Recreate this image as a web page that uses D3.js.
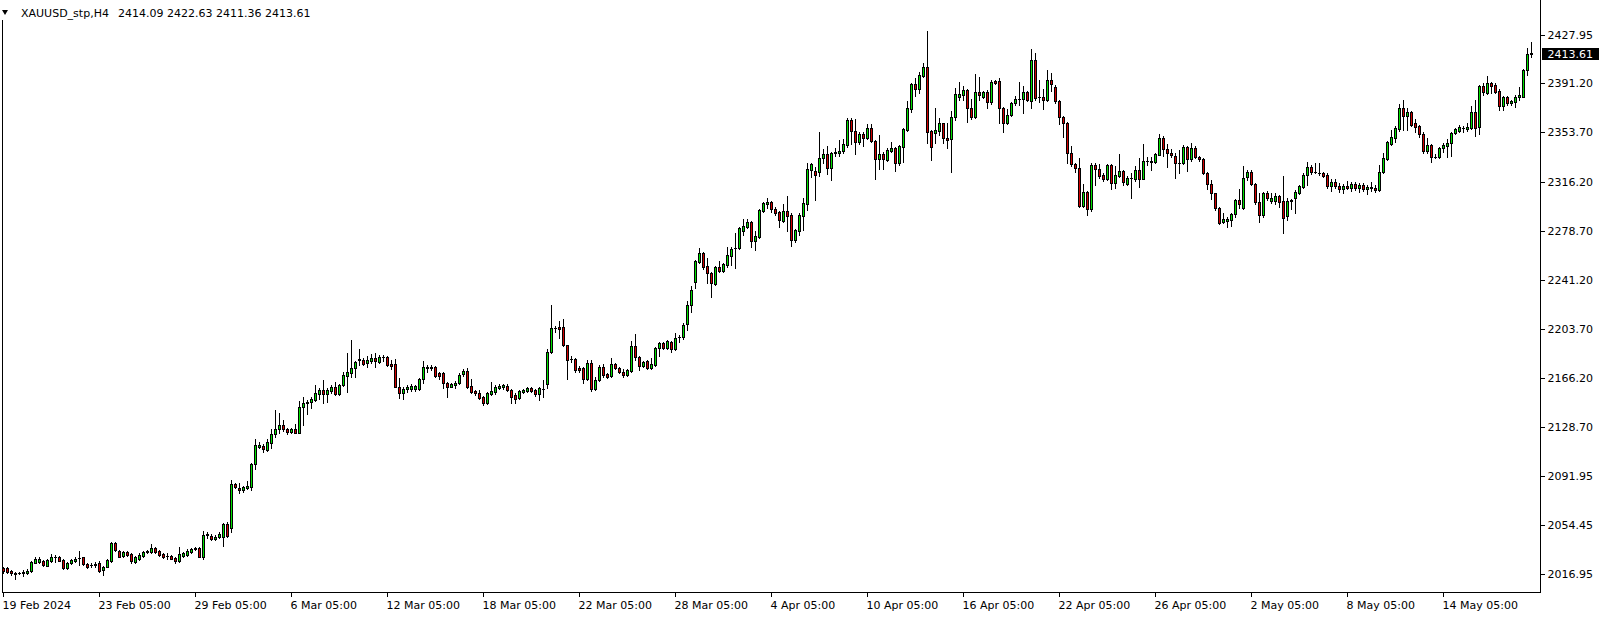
<!DOCTYPE html>
<html><head><meta charset="utf-8">
<script src="https://cdn.jsdelivr.net/npm/d3@7"></script>
<style>html,body{margin:0;padding:0;background:#fff;overflow:hidden}svg{display:block}</style>
</head><body>
<svg id="c" width="1604" height="617"></svg>
<script>
const symbol = "XAUUSD_stp,H4";
const xTickLabels = ["19 Feb 2024","23 Feb 05:00","29 Feb 05:00","6 Mar 05:00","12 Mar 05:00","18 Mar 05:00","22 Mar 05:00","28 Mar 05:00","4 Apr 05:00","10 Apr 05:00","16 Apr 05:00","22 Apr 05:00","26 Apr 05:00","2 May 05:00","8 May 05:00","14 May 05:00"];
const xTickIndex = [0,24,48,72,96,120,144,168,192,216,240,264,288,312,336,360];
const yTickLabels = ["2427.95","2391.20","2353.70","2316.20","2278.70","2241.20","2203.70","2166.20","2128.70","2091.95","2054.45","2016.95"];

const open = [
2021.8,2021.3,2019.2,2017.0,2017.9,2017.9,2017.5,2019.0,2025.6,2026.1,
2027.1,2023.3,2026.9,2029.6,2029.9,2027.6,2021.8,2025.1,2026.6,2029.0,
2029.7,2024.6,2023.5,2024.0,2025.6,2020.0,2022.5,2027.1,2040.8,2034.5,
2030.7,2033.5,2032.2,2026.4,2028.4,2030.7,2034.0,2033.5,2036.8,2034.5,
2032.2,2030.7,2030.7,2028.9,2026.9,2030.9,2031.2,2034.0,2036.3,2036.5,
2030.2,2047.0,2046.2,2043.4,2044.9,2045.4,2055.1,2051.8,2085.6,2082.8,
2081.0,2082.3,2083.5,2100.6,2114.0,2114.5,2111.5,2117.1,2123.5,2127.3,
2130.6,2127.5,2125.5,2127.5,2124.7,2144.0,2147.6,2148.4,2149.9,2154.2,
2157.3,2153.9,2156.8,2159.5,2154.5,2160.8,2168.2,2170.2,2173.8,2179.9,
2180.1,2177.6,2179.6,2181.6,2178.9,2182.2,2182.4,2177.1,2176.8,2159.8,
2154.7,2157.8,2158.3,2158.3,2158.3,2165.4,2174.3,2173.8,2174.8,2170.0,
2170.0,2162.3,2159.8,2160.8,2162.3,2169.2,2172.0,2160.3,2156.5,2154.7,
2152.2,2147.1,2154.5,2156.0,2159.0,2159.3,2160.0,2157.0,2153.4,2150.9,
2156.0,2156.5,2159.0,2157.5,2153.9,2157.8,2161.6,2186.0,2204.6,2205.0,
2205.0,2191.3,2180.6,2180.6,2173.8,2173.8,2165.9,2177.9,2158.3,2164.9,
2174.5,2169.4,2168.2,2176.8,2174.3,2171.0,2168.9,2172.0,2190.5,2182.4,
2175.6,2179.1,2174.3,2176.6,2189.0,2193.1,2189.3,2193.9,2188.8,2197.4,
2197.4,2207.3,2221.8,2239.4,2255.1,2262.0,2251.8,2246.2,2238.1,2251.3,
2248.3,2252.6,2259.7,2265.2,2265.3,2278.8,2281.8,2285.4,2271.1,2274.2,
2294.0,2298.8,2300.4,2295.3,2292.7,2286.4,2293.7,2290.7,2271.6,2278.7,
2290.2,2299.3,2325.3,2324.3,2323.7,2333.9,2337.2,2326.8,2337.7,2338.2,
2339.2,2344.3,2363.1,2354.8,2346.6,2352.5,2349.2,2356.8,2347.1,2333.1,
2336.9,2332.6,2339.8,2341.8,2330.1,2342.8,2355.5,2371.3,2390.6,2386.8,
2397.0,2403.3,2354.8,2353.5,2355.0,2360.6,2349.4,2348.4,2365.2,2380.9,
2382.5,2386.0,2372.0,2365.7,2384.5,2381.0,2384.5,2376.6,2392.9,2392.9,
2372.0,2360.6,2366.7,2375.8,2379.1,2378.9,2384.5,2377.4,2408.6,2380.4,
2380.7,2378.1,2393.6,2388.0,2377.6,2365.2,2360.6,2337.7,2329.3,2326.3,
2297.8,2308.0,2295.0,2328.8,2325.5,2320.9,2317.9,2328.8,2314.8,2320.7,
2324.2,2314.1,2318.8,2318.1,2325.0,2318.1,2331.5,2330.9,2331.4,2336.7,
2349.2,2340.8,2338.2,2335.9,2330.3,2330.1,2342.3,2333.1,2341.5,2334.9,
2333.1,2322.5,2314.1,2307.2,2295.8,2285.6,2286.4,2286.9,2291.2,2301.9,
2295.8,2319.9,2323.2,2314.1,2300.9,2290.7,2307.7,2301.6,2301.6,2305.4,
2301.6,2290.2,2301.1,2303.4,2307.7,2312.3,2321.2,2327.0,2323.6,2322.9,
2323.0,2321.2,2312.8,2315.5,2312.5,2310.5,2312.8,2311.5,2314.0,2311.0,
2313.5,2310.5,2312.0,2311.0,2310.0,2323.7,2333.4,2344.8,2349.7,2356.3,
2372.0,2366.4,2369.0,2360.6,2358.6,2352.5,2339.8,2343.8,2335.1,2335.2,
2341.5,2343.6,2345.3,2353.0,2355.0,2356.7,2356.0,2357.3,2369.0,2357.5,
2389.1,2384.0,2391.1,2389.8,2385.5,2373.8,2380.9,2375.8,2377.1,2380.4,
2380.9,2401.3,2414.09];

const high = [
2022.5,2022.0,2019.8,2018.5,2018.6,2020.0,2020.5,2026.8,2029.7,2030.2,
2027.9,2028.6,2032.2,2031.4,2030.7,2028.6,2026.4,2028.6,2030.2,2034.5,
2030.2,2025.6,2025.1,2026.4,2026.6,2023.3,2028.4,2041.4,2041.4,2035.3,
2034.7,2034.7,2032.7,2030.7,2032.7,2034.7,2035.3,2039.6,2037.8,2035.3,
2033.2,2032.7,2031.7,2029.7,2037.3,2034.0,2035.8,2037.0,2037.3,2037.3,
2050.0,2049.2,2047.2,2046.4,2049.2,2056.1,2056.9,2088.6,2086.6,2086.1,
2084.0,2087.9,2101.8,2119.6,2117.9,2115.8,2119.6,2127.3,2142.0,2139.5,
2134.4,2128.3,2128.3,2131.3,2148.9,2151.9,2149.6,2152.2,2161.1,2158.5,
2164.9,2158.5,2160.8,2163.4,2161.6,2170.7,2185.5,2195.1,2179.4,2188.5,
2181.4,2183.2,2184.7,2185.5,2183.9,2183.9,2183.2,2180.1,2181.1,2166.2,
2159.3,2160.8,2161.8,2161.1,2166.4,2179.4,2176.3,2176.3,2175.6,2171.0,
2170.7,2163.6,2162.3,2163.9,2170.0,2173.0,2173.8,2165.9,2157.3,2157.3,
2152.9,2155.5,2163.1,2161.1,2161.6,2161.6,2161.6,2157.8,2154.7,2157.3,
2158.3,2159.8,2159.8,2158.3,2159.8,2164.9,2188.3,2222.1,2206.3,2209.9,
2211.1,2191.8,2183.2,2181.4,2175.6,2174.5,2180.1,2180.1,2167.4,2176.3,
2177.1,2170.5,2181.4,2177.6,2174.5,2173.0,2173.0,2194.6,2199.7,2183.2,
2179.6,2180.1,2181.4,2190.3,2194.1,2194.1,2195.4,2194.6,2201.0,2199.2,
2208.1,2225.4,2236.8,2256.4,2265.3,2262.7,2257.7,2247.0,2251.5,2255.9,
2254.1,2266.6,2266.6,2277.2,2281.3,2287.4,2287.4,2286.1,2278.5,2295.5,
2300.4,2303.9,2301.6,2296.5,2293.5,2299.1,2305.2,2292.5,2279.8,2292.5,
2303.4,2330.1,2330.1,2327.6,2353.7,2340.8,2343.3,2339.0,2341.5,2347.9,
2348.7,2364.4,2364.4,2363.9,2354.0,2354.2,2360.1,2360.1,2347.9,2351.7,
2339.0,2341.5,2346.1,2342.8,2343.8,2356.8,2377.6,2391.6,2394.9,2400.0,
2406.4,2431.0,2355.5,2372.0,2364.4,2361.1,2360.6,2370.3,2387.3,2392.4,
2389.1,2387.0,2379.2,2397.9,2395.9,2385.5,2386.0,2393.6,2393.6,2395.4,
2372.8,2371.3,2376.9,2381.4,2391.9,2389.3,2385.3,2417.3,2414.0,2393.6,
2386.5,2401.3,2398.7,2389.8,2378.4,2366.2,2361.6,2343.3,2330.6,2334.4,
2314.3,2308.7,2330.6,2330.1,2329.6,2322.5,2329.6,2329.6,2328.1,2337.2,
2325.0,2320.4,2323.0,2328.1,2333.9,2344.8,2334.7,2335.2,2338.2,2352.5,
2350.9,2344.8,2341.0,2337.7,2340.3,2344.1,2343.3,2345.9,2343.3,2335.7,
2333.9,2323.7,2317.4,2307.7,2296.5,2292.5,2289.4,2292.0,2302.6,2310.3,
2328.1,2325.0,2325.0,2314.8,2307.7,2308.5,2309.2,2307.7,2307.7,2306.2,
2320.4,2303.9,2302.6,2309.8,2313.6,2322.5,2331.4,2328.8,2330.6,2330.1,
2323.7,2322.5,2318.0,2318.5,2315.0,2314.0,2317.0,2316.0,2316.0,2315.0,
2315.0,2313.5,2316.0,2313.5,2328.8,2337.7,2347.1,2355.5,2358.6,2375.3,
2378.4,2372.5,2369.7,2363.6,2359.3,2354.2,2349.2,2344.6,2337.2,2342.3,
2345.9,2348.4,2354.2,2356.8,2359.3,2358.6,2360.6,2373.8,2378.4,2389.8,
2391.1,2396.5,2392.4,2391.1,2386.5,2381.6,2381.4,2378.7,2382.2,2388.6,
2401.8,2417.8,2422.63];

const low = [
2018.0,2018.0,2016.4,2012.9,2017.2,2015.4,2017.0,2018.5,2025.1,2025.1,
2023.1,2022.8,2026.1,2026.4,2026.6,2020.8,2020.8,2024.3,2026.1,2023.8,
2023.6,2021.8,2022.5,2022.5,2018.7,2015.9,2022.0,2026.4,2034.5,2029.7,
2030.2,2030.7,2025.1,2025.1,2027.6,2030.2,2032.7,2032.7,2033.2,2030.7,
2028.9,2028.6,2028.1,2025.1,2026.4,2030.2,2030.7,2033.2,2035.3,2029.7,
2028.1,2044.2,2042.9,2042.6,2044.4,2038.6,2044.9,2049.2,2082.3,2079.0,
2079.7,2081.5,2081.0,2097.3,2112.8,2110.2,2110.7,2113.3,2121.2,2124.7,
2126.2,2123.7,2124.7,2124.2,2124.2,2130.6,2138.7,2143.8,2149.1,2150.4,
2147.6,2148.4,2155.2,2153.7,2153.7,2160.3,2155.7,2167.4,2167.2,2176.3,
2176.3,2175.1,2177.6,2175.1,2178.1,2179.4,2175.6,2173.0,2159.3,2150.9,
2150.4,2155.7,2156.7,2156.7,2157.3,2162.8,2171.2,2172.5,2167.4,2165.9,
2158.5,2152.2,2159.3,2159.0,2161.6,2168.2,2159.0,2155.2,2153.4,2150.1,
2145.8,2146.3,2153.7,2153.9,2158.3,2158.0,2156.2,2147.1,2147.1,2150.1,
2155.2,2155.7,2156.0,2152.7,2149.6,2152.2,2158.5,2185.5,2201.7,2196.6,
2190.8,2165.9,2178.9,2171.2,2171.2,2162.3,2164.9,2156.5,2157.5,2164.1,
2167.4,2166.4,2167.4,2173.0,2170.0,2167.4,2168.2,2171.2,2180.1,2172.5,
2174.5,2173.0,2173.5,2175.8,2183.2,2188.3,2188.5,2186.5,2188.0,2194.0,
2195.9,2203.0,2216.7,2234.8,2253.8,2249.3,2238.6,2227.9,2237.3,2247.5,
2247.5,2251.3,2252.6,2250.0,2264.5,2275.5,2280.5,2266.6,2264.0,2272.9,
2293.3,2295.8,2293.2,2290.7,2281.8,2285.6,2278.7,2267.3,2270.4,2275.4,
2279.3,2294.5,2319.9,2302.1,2320.7,2330.6,2322.0,2317.4,2335.9,2335.7,
2337.7,2342.8,2344.8,2337.2,2344.6,2343.3,2348.4,2346.1,2318.1,2325.5,
2325.5,2331.9,2338.5,2324.5,2328.5,2331.4,2354.8,2369.5,2381.4,2383.5,
2395.7,2345.9,2332.6,2345.9,2351.7,2345.3,2341.5,2323.7,2363.1,2378.4,
2378.4,2361.9,2363.9,2364.4,2378.4,2380.2,2372.0,2375.3,2390.6,2360.6,
2353.7,2359.8,2366.2,2374.3,2374.6,2368.7,2377.9,2372.5,2378.4,2377.1,
2371.5,2377.6,2385.3,2376.4,2360.1,2350.4,2330.6,2328.1,2323.7,2297.0,
2297.0,2290.7,2293.7,2313.6,2319.2,2316.9,2317.4,2310.3,2311.0,2319.9,
2313.6,2313.6,2303.9,2316.9,2312.3,2317.9,2328.8,2325.0,2330.1,2336.4,
2335.7,2327.6,2335.2,2319.2,2323.0,2329.3,2324.5,2332.1,2333.9,2332.1,
2322.0,2310.3,2302.6,2294.5,2283.8,2284.3,2281.3,2282.3,2289.4,2295.8,
2295.0,2317.4,2313.6,2298.8,2285.6,2289.4,2302.1,2300.1,2299.1,2297.0,
2276.7,2286.9,2295.0,2292.5,2306.7,2311.0,2313.6,2322.0,2322.5,2321.2,
2319.9,2311.0,2309.0,2311.0,2308.5,2307.5,2310.5,2309.0,2310.0,2308.5,
2309.0,2307.0,2309.0,2308.0,2309.0,2323.0,2332.6,2344.1,2346.6,2355.0,
2355.5,2355.5,2358.8,2354.2,2350.4,2338.2,2337.7,2331.4,2334.4,2333.9,
2339.0,2335.2,2335.7,2352.5,2354.2,2354.2,2355.0,2356.3,2350.9,2352.5,
2382.2,2383.2,2384.0,2384.0,2370.8,2370.5,2374.6,2374.8,2373.3,2378.4,
2380.4,2397.5,2411.36];

const close = [
2019.5,2018.7,2017.5,2017.8,2018.0,2018.1,2019.5,2026.1,2028.4,2028.4,
2023.6,2027.6,2030.2,2029.9,2027.1,2021.3,2025.6,2027.6,2028.6,2029.2,
2024.3,2022.5,2023.7,2024.2,2019.5,2022.5,2027.6,2040.8,2035.3,2030.2,
2033.5,2031.4,2027.1,2029.7,2031.7,2033.5,2034.2,2036.8,2034.0,2031.7,
2029.7,2030.9,2028.6,2026.9,2032.2,2032.7,2034.7,2036.3,2036.5,2030.2,
2046.9,2047.3,2043.6,2045.4,2047.2,2055.1,2046.2,2085.6,2083.0,2081.0,
2083.5,2084.3,2100.8,2115.3,2115.3,2112.0,2117.4,2123.5,2127.5,2130.6,
2127.5,2125.5,2127.5,2124.7,2144.3,2147.3,2147.8,2150.4,2155.0,2157.3,
2153.9,2157.3,2159.5,2154.5,2160.8,2168.7,2171.0,2173.8,2178.6,2180.6,
2177.3,2180.1,2181.6,2179.1,2182.4,2182.4,2176.1,2175.6,2159.8,2154.7,
2158.0,2159.3,2160.3,2160.0,2165.6,2174.8,2174.5,2175.1,2168.2,2168.2,
2162.3,2159.5,2161.8,2162.8,2168.7,2172.0,2159.8,2156.0,2154.7,2151.4,
2147.1,2154.7,2156.5,2159.5,2160.6,2160.8,2157.0,2152.2,2150.6,2156.5,
2157.5,2159.0,2156.7,2153.9,2158.5,2158.0,2186.5,2204.3,2204.8,2203.8,
2191.3,2180.4,2180.8,2172.5,2172.5,2165.9,2177.9,2158.0,2164.6,2174.5,
2168.9,2167.4,2176.8,2174.0,2171.0,2168.9,2172.5,2190.5,2182.7,2175.8,
2178.6,2174.3,2176.8,2189.3,2192.9,2189.0,2194.6,2188.8,2196.6,2197.6,
2206.8,2222.1,2233.5,2255.6,2262.0,2251.3,2246.2,2238.6,2250.8,2248.3,
2253.3,2259.9,2264.8,2265.4,2280.5,2282.3,2285.4,2271.1,2274.7,2294.5,
2299.6,2300.9,2295.0,2292.5,2286.9,2293.7,2290.2,2271.5,2279.3,2290.4,
2299.8,2325.5,2329.3,2321.2,2333.9,2337.2,2326.8,2338.0,2339.0,2339.5,
2344.6,2363.1,2355.0,2346.6,2352.5,2349.2,2356.8,2347.1,2333.1,2337.2,
2333.1,2340.0,2341.8,2330.1,2343.1,2356.3,2372.0,2390.6,2386.5,2397.2,
2403.3,2354.2,2342.8,2355.5,2360.6,2349.2,2348.1,2365.2,2382.7,2382.7,
2386.0,2372.0,2365.7,2384.5,2381.9,2384.5,2376.6,2392.1,2391.6,2372.0,
2360.6,2366.7,2376.1,2379.2,2379.3,2384.5,2378.6,2408.6,2380.2,2380.6,
2378.1,2393.6,2390.3,2377.4,2365.2,2360.6,2337.7,2329.3,2326.3,2297.8,
2308.0,2295.0,2328.8,2325.5,2320.4,2317.9,2328.8,2314.8,2321.2,2324.2,
2315.6,2318.6,2319.0,2325.0,2318.1,2331.9,2331.7,2332.1,2337.2,2349.2,
2340.8,2337.7,2336.7,2330.1,2330.5,2342.3,2333.1,2341.5,2334.9,2333.1,
2322.5,2314.1,2307.2,2295.8,2284.9,2287.4,2287.6,2291.2,2302.1,2298.8,
2318.6,2323.2,2314.1,2300.9,2290.7,2307.7,2303.4,2303.4,2305.4,2300.9,
2288.7,2301.6,2302.4,2308.5,2312.8,2321.2,2327.0,2323.7,2323.8,2323.1,
2320.7,2312.8,2315.5,2312.5,2310.5,2312.8,2311.5,2314.0,2311.0,2313.5,
2310.5,2312.0,2311.0,2310.0,2323.7,2333.9,2346.1,2349.9,2356.8,2372.0,
2366.4,2369.0,2359.3,2358.1,2352.2,2339.8,2344.1,2335.2,2335.3,2341.5,
2344.1,2345.3,2353.0,2356.0,2358.1,2356.9,2357.5,2369.0,2357.3,2389.1,
2384.7,2391.1,2389.1,2384.7,2373.8,2380.9,2375.8,2377.9,2380.9,2382.2,
2401.3,2413.5,2413.61];

const BULL = "#00e000", BEAR = "#d00000", INK = "#000000";
const FONT = "DejaVu Sans, Verdana, sans-serif";
const plotLeft = 2, plotRight = 1540, plotBottom = 592;
const n = open.length;

const svg = d3.select("#c");
svg.append("rect").attr("width",1604).attr("height",617).attr("fill","#fff");

const x = d3.scaleLinear().domain([0, n-1]).range([3, 3 + 4*(n-1)]);
const yTickValues = yTickLabels.map(Number);
const y = d3.scaleLinear().domain([2016.95, 2427.95]).range([574, 35]);
const py = v => Math.round(y(v)) + 0.5;

svg.append("defs").append("clipPath").attr("id","plot")
  .append("rect").attr("x", plotLeft+1).attr("y", 0).attr("width", plotRight-plotLeft-1).attr("height", plotBottom);

const data = d3.range(n).map(i => ({i, o:open[i], h:high[i], l:low[i], c:close[i]}));
const g = svg.append("g").attr("clip-path","url(#plot)").attr("shape-rendering","crispEdges");

g.selectAll("line.wick").data(data).join("line").attr("class","wick")
  .attr("x1", d => x(d.i)+0.5).attr("x2", d => x(d.i)+0.5)
  .attr("y1", d => py(d.h) - 0.5).attr("y2", d => py(d.l) + 0.5)
  .attr("stroke", INK).attr("stroke-width", 1);

data.forEach(d => {
  const top = py(Math.max(d.o, d.c)), bot = py(Math.min(d.o, d.c));
  if (bot - top < 1) {
    g.append("line").attr("x1", x(d.i)-1).attr("x2", x(d.i)+2)
      .attr("y1", top).attr("y2", top).attr("stroke", INK);
  } else {
    g.append("rect").attr("x", x(d.i)-0.5).attr("y", top).attr("width", 2).attr("height", bot-top)
      .attr("fill", d.c >= d.o ? BULL : BEAR).attr("stroke", INK).attr("stroke-width", 1);
  }
});

// frame
const frame = svg.append("g").attr("shape-rendering","crispEdges").attr("stroke", INK).attr("stroke-width",1);
frame.append("line").attr("x1", plotLeft+0.5).attr("x2", plotLeft+0.5).attr("y1", 0).attr("y2", plotBottom+0.5);
frame.append("line").attr("x1", plotLeft).attr("x2", plotRight+1).attr("y1", plotBottom+0.5).attr("y2", plotBottom+0.5);
frame.append("line").attr("x1", plotRight+0.5).attr("x2", plotRight+0.5).attr("y1", 0).attr("y2", plotBottom+0.5);

// y axis
const yAxis = svg.append("g").attr("transform", `translate(${plotRight+0.5},0)`)
  .call(d3.axisRight(y).tickValues(yTickValues).tickFormat((d,i)=>yTickLabels[i]).tickSize(4).tickPadding(3));
yAxis.select(".domain").remove();
yAxis.selectAll(".tick").attr("transform", d => `translate(0,${py(d)})`);
yAxis.selectAll(".tick line").attr("stroke", INK).attr("shape-rendering","crispEdges");
yAxis.selectAll(".tick text").attr("font-family", FONT).attr("font-size", 11).attr("fill", INK).attr("x", 7);

// x axis
const xAxis = svg.append("g").attr("transform", `translate(0,${plotBottom+0.5})`)
  .call(d3.axisBottom(x).tickValues(xTickIndex).tickFormat((d,i)=>xTickLabels[i]).tickSize(4));
xAxis.select(".domain").remove();
xAxis.selectAll(".tick line").attr("stroke", INK).attr("shape-rendering","crispEdges");
xAxis.selectAll(".tick text").attr("font-family", FONT).attr("font-size", 11).attr("fill", INK)
  .attr("text-anchor","start").attr("x", -1).attr("y", 16.5).attr("dy", null);

// current price label
const last = close[n-1];
const ly = py(last);
svg.append("rect").attr("x", 1542).attr("y", ly-6.5).attr("width", 57).attr("height", 12).attr("fill", INK);
svg.append("text").attr("x", 1547.5).attr("y", ly+3.5).attr("font-family", FONT).attr("font-size", 11)
  .attr("fill", "#fff").text(last.toFixed(2));

// header
svg.append("rect").attr("x",0).attr("y",0).attr("width",320).attr("height",20).attr("fill","#fff");
svg.append("path").attr("d","M2,10 L8,10 L5,15 Z").attr("fill", INK);
svg.append("text").attr("x", 21).attr("y", 17).attr("font-family", FONT).attr("font-size", 11).attr("fill", INK).text(symbol);
svg.append("text").attr("x", 118).attr("y", 17).attr("font-family", FONT).attr("font-size", 11).attr("fill", INK)
  .text([open[n-1], high[n-1], low[n-1], close[n-1]].map(v => v.toFixed(2)).join(" "));
</script>
</body></html>
